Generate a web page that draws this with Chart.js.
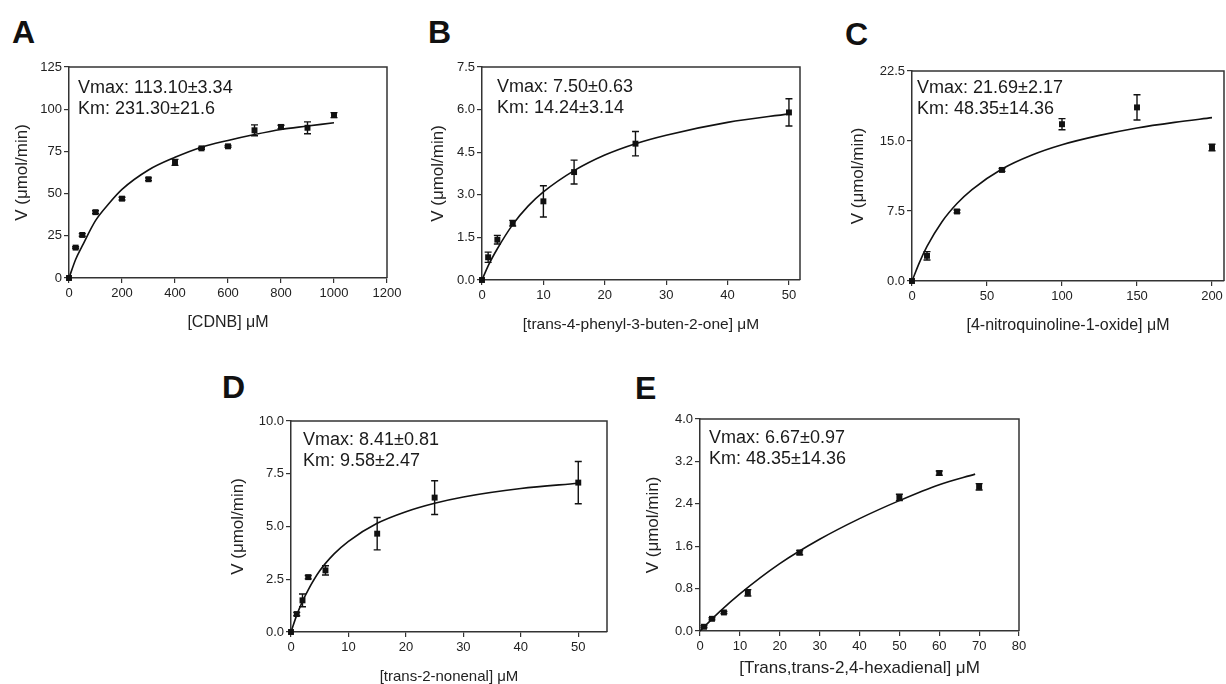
<!DOCTYPE html>
<html>
<head>
<meta charset="utf-8">
<script src="https://cdn.jsdelivr.net/npm/chart.js@4.4.1/dist/chart.umd.min.js"></script>
<style>
  html, body { margin: 0; padding: 0; background: #fff; }
  body { position: relative; width: 1226px; height: 684px; overflow: hidden; font-family: "Liberation Sans", Arial, sans-serif; }
  canvas { position: absolute; }
  .tag { position: absolute; font-weight: bold; font-size: 32px; line-height: 1; color: #111; }
</style>
</head>
<body>
<div class="tag" style="left:12px;top:16px">A</div>
<div class="tag" style="left:428px;top:16px">B</div>
<div class="tag" style="left:845px;top:18px">C</div>
<div class="tag" style="left:222px;top:371px">D</div>
<div class="tag" style="left:635px;top:372px">E</div>

<canvas id="chartA"></canvas>
<canvas id="chartB"></canvas>
<canvas id="chartC"></canvas>
<canvas id="chartD"></canvas>
<canvas id="chartE"></canvas>

<script>
// =========================
// DATA  (substrate uM, rate umol/min, error)
// =========================
const aX   = [0, 25, 50, 100, 200, 300, 400, 500, 600, 700, 800, 900, 1000];
const aV   = [0, 18, 25.5, 39, 47, 58.5, 68.5, 76.8, 78, 87.5, 89.5, 89, 96.5];
const aErr = [0, 0.5, 0.8, 0.8, 0.8, 0.8, 1.8, 0.5, 0.5, 3.2, 1, 3.5, 1.5];
const aFitX = [0, 25, 50, 100, 150, 200, 300, 400, 500, 600, 700, 800, 900, 1000];
const aFitV = [0, 11, 19, 34, 44, 52.5, 64, 71.5, 77.5, 81.5, 85, 88, 90, 92];

const bX   = [0, 1, 2.5, 5, 10, 15, 25, 50];
const bV   = [0, 0.8, 1.42, 2.0, 2.77, 3.8, 4.8, 5.9];
const bErr = [0, 0.18, 0.15, 0.1, 0.55, 0.42, 0.43, 0.48];
const bFitX = [0, 1, 2.5, 5, 7.5, 10, 15, 20, 25, 30, 40, 50];
const bFitV = [0, 0.5, 1.1, 1.95, 2.6, 3.1, 3.85, 4.4, 4.8, 5.1, 5.55, 5.85];

const cX   = [0, 10, 30, 60, 100, 150, 200];
const cV   = [0, 2.7, 7.45, 11.9, 16.8, 18.6, 14.3];
const cErr = [0, 0.45, 0.15, 0.15, 0.6, 1.35, 0.35];
const cFitX = [0, 5, 10, 20, 30, 40, 60, 80, 100, 125, 150, 175, 200];
const cFitV = [0, 2.0, 3.7, 6.35, 8.3, 9.8, 12.0, 13.5, 14.6, 15.6, 16.4, 17.0, 17.5];

const dX   = [0, 1, 2, 3, 6, 15, 25, 50];
const dV   = [0, 0.85, 1.5, 2.6, 2.92, 4.66, 6.37, 7.08];
const dErr = [0, 0.08, 0.3, 0.08, 0.22, 0.77, 0.8, 1.0];
const dFitX = [0, 1, 2, 3, 5, 7.5, 10, 15, 20, 25, 30, 40, 50];
const dFitV = [0, 0.8, 1.45, 2.0, 2.9, 3.7, 4.3, 5.15, 5.7, 6.1, 6.4, 6.8, 7.05];

const eX   = [1, 3, 6, 12, 25, 50, 60, 70];
const eV   = [0.08, 0.23, 0.35, 0.72, 1.48, 2.52, 2.98, 2.72];
const eErr = [0.02, 0.02, 0.02, 0.06, 0.04, 0.06, 0.04, 0.06];
const eFitX = [0, 5, 10, 20, 30, 40, 50, 60, 69];
const eFitV = [0, 0.37, 0.7, 1.27, 1.73, 2.12, 2.46, 2.76, 2.96];

const yTitle = "V (\u03bcmol/min)";

// =========================
// PLUGINS
// =========================
const YW = 70, PT = 12, XH = 60, PR = 20;
const FONT = "'Liberation Sans', Arial, sans-serif";

const framePlugin = {
    id: "frame",
    afterDatasetsDraw(chart) {
        const { ctx, chartArea: a } = chart;
        ctx.save();
        ctx.strokeStyle = "#333";
        ctx.lineWidth = 1.5;
        ctx.beginPath();
        ctx.moveTo(a.left, a.top);
        ctx.lineTo(a.right, a.top);
        ctx.lineTo(a.right, a.bottom);
        ctx.stroke();
        ctx.restore();
    }
};

const errorPlugin = {
    id: "errbars",
    afterDatasetsDraw(chart) {
        const { ctx, scales } = chart;
        chart.data.datasets.forEach(ds => {
            if (!ds.errors) return;
            ctx.save();
            ctx.strokeStyle = "#111";
            ctx.lineWidth = 1.4;
            ds.data.forEach((p, i) => {
                const e = ds.errors[i];
                if (!e) return;
                const x = scales.x.getPixelForValue(p.x);
                const y1 = scales.y.getPixelForValue(p.y + e);
                const y2 = scales.y.getPixelForValue(p.y - e);
                ctx.beginPath();
                ctx.moveTo(x, y1); ctx.lineTo(x, y2);
                ctx.moveTo(x - 3.5, y1); ctx.lineTo(x + 3.5, y1);
                ctx.moveTo(x - 3.5, y2); ctx.lineTo(x + 3.5, y2);
                ctx.stroke();
            });
            ctx.restore();
        });
    }
};

const notePlugin = {
    id: "note",
    afterDraw(chart, args, opts) {
        if (!opts.lines) return;
        const { ctx, chartArea: a } = chart;
        ctx.save();
        ctx.fillStyle = "#1a1a1a";
        ctx.font = "18px " + FONT;
        ctx.textBaseline = "alphabetic";
        opts.lines.forEach((t, i) => {
            ctx.fillText(t, a.left + opts.dx, a.top + opts.dy + i * 21);
        });
        ctx.restore();
    }
};

// =========================
// PANEL
// =========================
function createPanel(p) {

    const canvas = document.getElementById(p.id);
    const w = p.right - p.left + YW + PR;
    const h = p.bottom - p.top + PT + XH;
    canvas.width = w;
    canvas.height = h;
    canvas.style.left = (p.left - YW) + "px";
    canvas.style.top = (p.top - PT) + "px";
    canvas.style.width = w + "px";
    canvas.style.height = h + "px";

    const pts = p.xs.map((x, i) => ({ x: x, y: p.vs[i] }));
    const fit = p.fitX.map((x, i) => ({ x: x, y: p.fitV[i] }));

    new Chart(canvas, {
        type: "scatter",
        data: {
            datasets: [{
                type: "line",
                data: fit,
                borderColor: "#111",
                borderWidth: 1.6,
                pointRadius: 0,
                fill: false,
                cubicInterpolationMode: "monotone",
                clip: false
            }, {
                data: pts,
                errors: p.errs,
                pointStyle: "rect",
                pointRadius: 4.2,
                backgroundColor: "#111",
                borderWidth: 0,
                clip: false
            }]
        },
        options: {
            responsive: false,
            animation: false,
            devicePixelRatio: 1,
            layout: { padding: { left: 0, top: PT, right: PR, bottom: 0 } },
            plugins: {
                legend: { display: false },
                tooltip: { enabled: false },
                note: { lines: p.note, dx: p.noteDx, dy: p.noteDy }
            },
            scales: {
                x: {
                    type: "linear",
                    min: 0,
                    max: p.xMax,
                    afterFit: s => { s.height = XH; },
                    ticks: {
                        stepSize: p.xStep,
                        includeBounds: false,
                        autoSkip: false,
                        maxRotation: 0,
                        color: "#222",
                        padding: 3,
                        font: { family: FONT, size: 13 },
                        callback: v => String(v)
                    },
                    grid: { drawOnChartArea: false, drawTicks: true, tickLength: 5, color: "#333", lineWidth: 1.2 },
                    border: { display: true, color: "#333", width: 1.5 },
                    title: {
                        display: true,
                        text: p.xTitle,
                        color: "#222",
                        font: { family: FONT, size: p.xTitleSize },
                        padding: { top: 0, bottom: p.xTitlePad }
                    }
                },
                y: {
                    type: "linear",
                    min: 0,
                    max: p.yMax,
                    afterFit: s => { s.width = YW; },
                    ticks: {
                        stepSize: p.yStep,
                        color: "#222",
                        padding: 2,
                        font: { family: FONT, size: 13 },
                        callback: v => v.toFixed(p.yDec)
                    },
                    grid: { drawOnChartArea: false, drawTicks: true, tickLength: 5, color: "#333", lineWidth: 1.2 },
                    border: { display: true, color: "#333", width: 1.5 },
                    title: {
                        display: true,
                        text: yTitle,
                        color: "#222",
                        font: { family: FONT, size: 17 },
                        padding: { top: p.yTitlePad, bottom: 0 }
                    }
                }
            }
        },
        plugins: [framePlugin, errorPlugin, notePlugin]
    });
}

document.addEventListener("DOMContentLoaded", function () {

    createPanel({
        id: "chartA", left: 69, top: 67, right: 387, bottom: 278,
        xs: aX, vs: aV, errs: aErr, fitX: aFitX, fitV: aFitV,
        xMax: 1200, xStep: 200, yMax: 125, yStep: 25, yDec: 0,
        xTitle: "[CDNB] \u03bcM", xTitleSize: 16, xTitlePad: 6, yTitlePad: 13,
        note: ["Vmax: 113.10\u00b13.34", "Km: 231.30\u00b121.6"], noteDx: 9, noteDy: 26
    });

    createPanel({
        id: "chartB", left: 482, top: 67, right: 800, bottom: 280,
        xs: bX, vs: bV, errs: bErr, fitX: bFitX, fitV: bFitV,
        xMax: 51.8, xStep: 10, yMax: 7.5, yStep: 1.5, yDec: 1,
        xTitle: "[trans-4-phenyl-3-buten-2-one] \u03bcM", xTitleSize: 15.5, xTitlePad: 6, yTitlePad: 16,
        note: ["Vmax: 7.50\u00b10.63", "Km: 14.24\u00b13.14"], noteDx: 15, noteDy: 25
    });

    createPanel({
        id: "chartC", left: 912, top: 71, right: 1224, bottom: 281,
        xs: cX, vs: cV, errs: cErr, fitX: cFitX, fitV: cFitV,
        xMax: 208, xStep: 50, yMax: 22.5, yStep: 7.5, yDec: 1,
        xTitle: "[4-nitroquinoline-1-oxide] \u03bcM", xTitleSize: 16, xTitlePad: 6, yTitlePad: 6,
        note: ["Vmax: 21.69\u00b12.17", "Km: 48.35\u00b114.36"], noteDx: 5, noteDy: 22
    });

    createPanel({
        id: "chartD", left: 291, top: 421, right: 607, bottom: 632,
        xs: dX, vs: dV, errs: dErr, fitX: dFitX, fitV: dFitV,
        xMax: 55, xStep: 10, yMax: 10, yStep: 2.5, yDec: 1,
        xTitle: "[trans-2-nonenal] \u03bcM", xTitleSize: 15, xTitlePad: 6, yTitlePad: 7,
        note: ["Vmax: 8.41\u00b10.81", "Km: 9.58\u00b12.47"], noteDx: 12, noteDy: 24
    });

    createPanel({
        id: "chartE", left: 700, top: 419, right: 1019, bottom: 631,
        xs: eX, vs: eV, errs: eErr, fitX: eFitX, fitV: eFitV,
        xMax: 80, xStep: 10, yMax: 4, yStep: 0.8, yDec: 1,
        xTitle: "[Trans,trans-2,4-hexadienal] \u03bcM", xTitleSize: 17, xTitlePad: 12, yTitlePad: 13,
        note: ["Vmax: 6.67\u00b10.97", "Km: 48.35\u00b114.36"], noteDx: 9, noteDy: 24
    });

});
</script>
</body>
</html>
